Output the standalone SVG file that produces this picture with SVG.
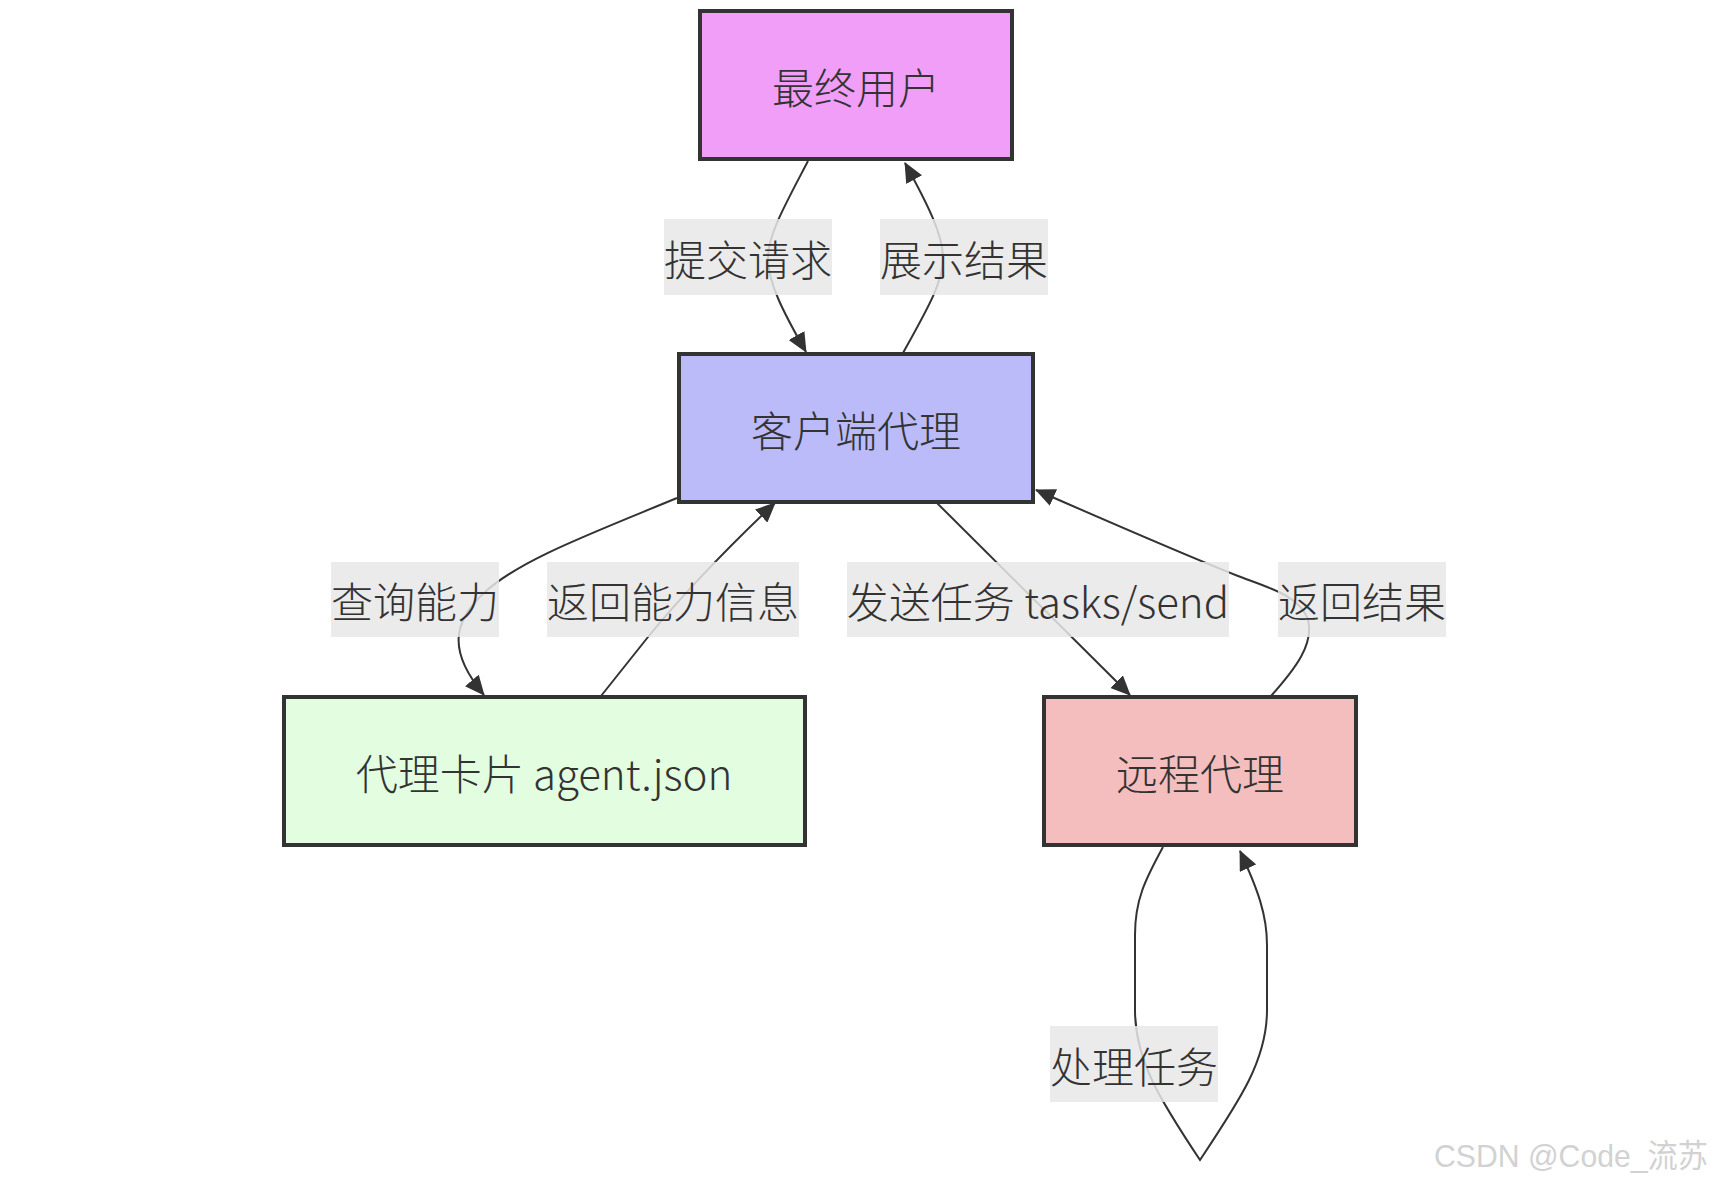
<svg xmlns="http://www.w3.org/2000/svg" width="1721" height="1190" viewBox="0 0 1721 1190">
<style>
  .node rect { stroke: #333333; stroke-width: 4; }
  .node text, .label text { font-family: "Noto Sans CJK SC", "Noto Sans", sans-serif; font-size: 42px; font-weight: 300; fill: #333333; text-anchor: middle; }
  .edge { fill: none; stroke: #333333; stroke-width: 2; }
  .label rect { fill: #e8e8e8; opacity: 0.85; }
  .wm { font-family: "Liberation Sans", Arial, "Noto Sans CJK SC", sans-serif; font-size: 32px; fill: #d2d2d2; }
</style>
<defs>
  <marker id="arrow" markerUnits="userSpaceOnUse" markerWidth="20" markerHeight="18" refX="19" refY="9" orient="auto">
    <path d="M0,0 L20,9 L0,18 z" fill="#333333"/>
  </marker>
</defs>
<rect width="1721" height="1190" fill="#ffffff"/>
<g id="connectors">
  <path class="edge" marker-end="url(#arrow)" d="M808,161 C785,205 768,235 768,258 C768,282 782,310 806,352"/>
  <path class="edge" marker-end="url(#arrow)" d="M903,353 C928,308 943,282 943,258 C943,235 928,205 905,163"/>
  <path class="edge" marker-end="url(#arrow)" d="M677,498 C590,534 520,560 485,592 C452,622 448,652 484,695"/>
  <path class="edge" marker-end="url(#arrow)" d="M601,696 L648,637 C680,598 720,555 775,503"/>
  <path class="edge" marker-end="url(#arrow)" d="M937,503 L1130,695"/>
  <path class="edge" marker-end="url(#arrow)" d="M1271,696 C1296,668 1314,644 1308,620 C1300,596 1270,588 1238,576 C1180,553 1100,518 1036,490"/>
  <path class="edge" marker-end="url(#arrow)" d="M1163,847 C1145,880 1135,900 1135,935 L1135,1010 C1135,1060 1160,1100 1200,1160 C1240,1100 1267,1060 1267,1010 L1267,945 C1267,915 1258,890 1240,851"/>
</g>
<g id="edge-labels">
  <g class="label"><rect x="664" y="219" width="168" height="76"/><text x="748" y="276">提交请求</text></g>
  <g class="label"><rect x="880" y="219" width="168" height="76"/><text x="964" y="276">展示结果</text></g>
  <g class="label"><rect x="331" y="562" width="168" height="75"/><text x="415" y="618">查询能力</text></g>
  <g class="label"><rect x="547" y="562" width="252" height="75"/><text x="673" y="618">返回能力信息</text></g>
  <g class="label"><rect x="847" y="562" width="382" height="75"/><text x="1038" y="618">发送任务 tasks/send</text></g>
  <g class="label"><rect x="1278" y="562" width="168" height="75"/><text x="1362" y="618">返回结果</text></g>
  <g class="label"><rect x="1050" y="1026" width="168" height="76"/><text x="1134" y="1083">处理任务</text></g>
</g>
<g id="node-user" class="node">
  <rect x="700" y="11" width="312" height="148" fill="#f09ef8"/>
  <text x="856" y="104">最终用户</text>
</g>
<g id="node-client" class="node">
  <rect x="679" y="354" width="354" height="148" fill="#bbbbf9"/>
  <text x="856" y="447">客户端代理</text>
</g>
<g id="node-card" class="node">
  <rect x="284" y="697" width="521" height="148" fill="#e2fde0"/>
  <text x="544" y="790">代理卡片 agent.json</text>
</g>
<g id="node-remote" class="node">
  <rect x="1044" y="697" width="312" height="148" fill="#f5bebe"/>
  <text x="1200" y="790">远程代理</text>
</g>
<text class="wm" x="1434" y="1167" textLength="274" lengthAdjust="spacingAndGlyphs">CSDN @Code_流苏</text>
</svg>
